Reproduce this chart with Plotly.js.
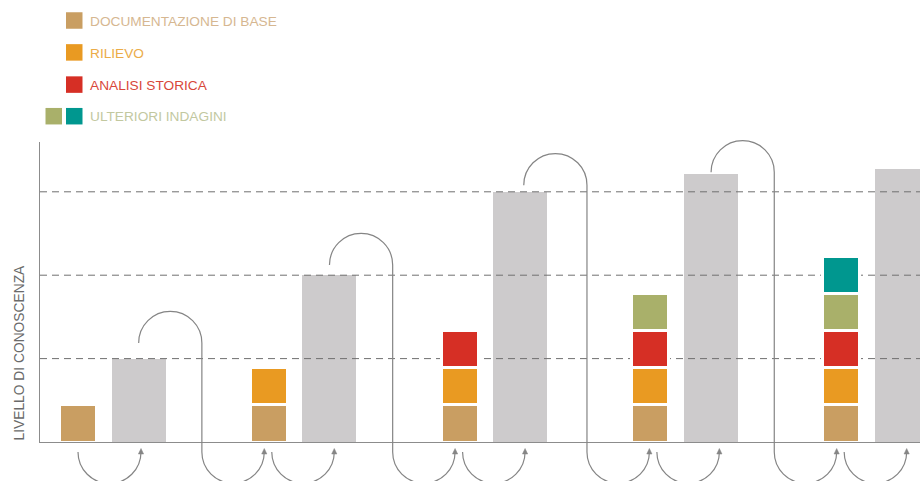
<!DOCTYPE html>
<html>
<head>
<meta charset="utf-8">
<script src="https://cdn.plot.ly/plotly-3.0.1.min.js"></script>
<style>html,body{margin:0;padding:0;background:#fff;}#chart{width:920px;height:481px;}</style>
</head>
<body>
<div id="chart"></div>
<script>
// ---------------- DATA ----------------
const phases = [1, 2, 3, 4, 5];
const seriesNames = ['DOCUMENTAZIONE DI BASE', 'RILIEVO', 'ANALISI STORICA', 'ULTERIORI INDAGINI'];
const documentazione = [0.445, 0.445, 0.445, 0.445, 0.445];
const rilievo        = [null, 0.445, 0.445, 0.445, 0.445];
const analisiStorica = [null, null, 0.445, 0.445, 0.445];
const ulterioriA     = [null, null, null, 0.445, 0.445];
const ulterioriB     = [null, null, null, null, 0.445];
const livello        = [1.0, 2.0, 3.0, 3.21, 3.27];   // grey bars: level of knowledge reached
const gridLevels     = [1, 2, 3];
const yTitle = 'LIVELLO DI CONOSCENZA';

// ---------------- STYLE / LAYOUT ----------------
const colors = {doc:'#C99E62', ril:'#E99A22', ana:'#D62F25', ultA:'#A9B06A', ultB:'#00978F', grey:'#CDCBCC'};
const textColors = ['#D6B791', '#EBAC48', '#D8473A', '#C2C89F'];
const L = 40, T = 142, PW = 880, PH = 300, B = 481 - T - PH;
const xPitch = 190.8;                 // px per phase
const xmin = (L - 78) / xPitch, xmax = xmin + PW / xPitch;
const yUnit = 83.4, ymax = PH / yUnit;
const GREY_OFF = 0.318, STACK_W = 0.194, GREY_W = 0.283;

function xd(px){ return xmin + (px - L) / xPitch; }
function xpx(x){ return L + (x - xmin) * xPitch; }
function yp(py){ return (T + PH - py) / PH; }
function ypx(v){ return T + PH - v * yUnit; }
function P(x, y){ return xd(x).toFixed(5) + ',' + yp(y).toFixed(5); }
const K = 0.5523;
function arcOver(x0, y, R){
  return 'C' + P(x0, y - K*R) + ' ' + P(x0 + R - K*R, y - R) + ' ' + P(x0 + R, y - R) +
         ' C' + P(x0 + R + K*R, y - R) + ' ' + P(x0 + 2*R, y - K*R) + ' ' + P(x0 + 2*R, y);
}
function arcUnder(x0, y, R){
  return 'C' + P(x0, y + K*R) + ' ' + P(x0 + R - K*R, y + R) + ' ' + P(x0 + R, y + R) +
         ' C' + P(x0 + R + K*R, y + R) + ' ' + P(x0 + 2*R, y + K*R) + ' ' + P(x0 + 2*R, y);
}

const xi = phases.map((p, i) => i);
const xStack = xi;
const xGrey = xi.map(v => v + GREY_OFF);

const traces = [];
traces.push({type:'bar', x:xGrey, y:livello, width:GREY_W, marker:{color:colors.grey, line:{width:0}},
  xaxis:'x', yaxis:'y', showlegend:false, hoverinfo:'skip'});
gridLevels.forEach(g => traces.push({type:'scatter', mode:'lines', x:[xmin, xmax], y:[g, g],
  line:{color:'#707070', width:1, dash:'7px,5px'}, xaxis:'x', yaxis:'y', showlegend:false, hoverinfo:'skip'}));
const stackSeries = [[documentazione, colors.doc], [rilievo, colors.ril], [analisiStorica, colors.ana],
                     [ulterioriA, colors.ultA], [ulterioriB, colors.ultB]];
stackSeries.forEach(([vals, c]) => traces.push({type:'bar', x:xStack, y:vals, width:STACK_W,
  marker:{color:c, line:{color:'#ffffff', width:3}}, xaxis:'x', yaxis:'y2', showlegend:false, hoverinfo:'skip'}));

// ---------------- DECORATIONS (arrows) ----------------
const shapes = [];
const lineStyle = {color:'#858585', width:1.2};
const arcStartLevel = [1.187, 2.122, 3.08, 3.234];
const arcStartShift = [0, 0, 3.5, 0];
const Rb = 31.6, Ru = 31.2, yU = 452;
function addArrowHead(ax){
  shapes.push({type:'path', xref:'x', yref:'paper', layer:'above',
    path:'M' + P(ax, yU - 3.5) + ' L' + P(ax - 2.6, yU + 2) + ' L' + P(ax + 2.6, yU + 2) + ' Z',
    fillcolor:'#858585', line:{color:'#858585', width:0.5}});
}
// first phase: stack -> grey
{
  const x0 = xpx(xStack[0]);
  shapes.push({type:'path', xref:'x', yref:'paper', layer:'above', path:'M' + P(x0, yU) + ' ' + arcUnder(x0, yU, 31.5), line:lineStyle});
  addArrowHead(x0 + 63);
}
for (let i = 0; i < phases.length - 1; i++){
  const gx = xpx(xGrey[i]) + arcStartShift[i];
  const yS = ypx(arcStartLevel[i]);
  const xv = gx + 2*Rb;
  const aIn = xv + 2*Ru;
  shapes.push({type:'path', xref:'x', yref:'paper', layer:'above',
    path:'M' + P(gx, yS) + ' ' + arcOver(gx, yS, Rb) + ' L' + P(xv, yU) + ' ' + arcUnder(xv, yU, Ru), line:lineStyle});
  addArrowHead(aIn);
  const s0 = aIn + 7.5;
  shapes.push({type:'path', xref:'x', yref:'paper', layer:'above',
    path:'M' + P(s0, yU) + ' ' + arcUnder(s0, yU, 31.25), line:lineStyle});
  addArrowHead(s0 + 62.5);
}

// ---------------- LEGEND ----------------
const annotations = [];
function pxp(px){ return (px - L) / PW; }
const rowY = [20.5, 52.4, 84.6, 116.2];
const rowSquares = [[[colors.doc, 66]], [[colors.ril, 66]], [[colors.ana, 66]], [[colors.ultA, 45.5], [colors.ultB, 66]]];
rowY.forEach((cy, r) => {
  rowSquares[r].forEach(([c, x0]) => shapes.push({type:'rect', xref:'paper', yref:'paper', layer:'above',
    x0:pxp(x0), x1:pxp(x0 + 16.5), y0:yp(cy + 8.25), y1:yp(cy - 8.25), fillcolor:c, line:{width:0}}));
  annotations.push({xref:'paper', yref:'paper', x:pxp(87.5), y:yp(cy + 0.6), xanchor:'left', yanchor:'middle',
    showarrow:false, text:seriesNames[r], font:{family:'Liberation Sans, Arial, sans-serif', size:13.7, color:textColors[r]}});
});
annotations.push({xref:'paper', yref:'paper', x:pxp(18.5), y:yp(353), xanchor:'center', yanchor:'middle',
  textangle:-90, showarrow:false, text:yTitle, font:{family:'Liberation Sans, Arial, sans-serif', size:13.8, color:'#6a6a6a'}});

const layout = {
  width:920, height:481,
  margin:{l:L, r:0, t:T, b:B, pad:0},
  paper_bgcolor:'#ffffff', plot_bgcolor:'#ffffff',
  barmode:'stack', showlegend:false,
  xaxis:{range:[xmin, xmax], showgrid:false, zeroline:false, showticklabels:false, ticks:'',
         showline:true, linecolor:'#8c8c8c', linewidth:1, fixedrange:true},
  yaxis:{range:[0, ymax], showgrid:false, zeroline:false, showticklabels:false, ticks:'',
         showline:true, linecolor:'#8c8c8c', linewidth:1, fixedrange:true},
  yaxis2:{range:[0, ymax], overlaying:'y', visible:false, showgrid:false, zeroline:false, fixedrange:true},
  shapes:shapes, annotations:annotations
};
Plotly.newPlot('chart', traces, layout, {displayModeBar:false, staticPlot:true});
</script>
</body>
</html>
